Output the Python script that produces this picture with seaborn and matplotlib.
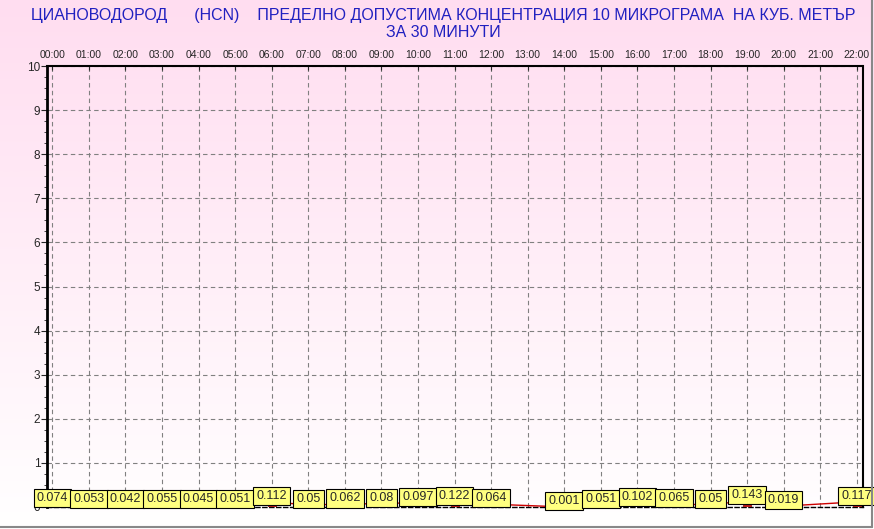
import numpy as np
import pandas as pd
import matplotlib.pyplot as plt
import seaborn as sns
from matplotlib.lines import Line2D

# Dados
hours = list(range(23))
hour_labels = [f"{h:02d}:00" for h in hours]
values = [0.074, 0.053, 0.042, 0.055, 0.045, 0.051, 0.112, 0.05, 0.062, 0.08,
          0.097, 0.122, 0.064, np.nan, 0.001, 0.051, 0.102, 0.065, 0.05, 0.143,
          0.019, np.nan, 0.117]
title = ("ЦИАНОВОДОРОД      (HCN)    ПРЕДЕЛНО ДОПУСТИМА КОНЦЕНТРАЦИЯ 10 МИКРОГРАМА  НА КУБ. МЕТЪР\n"
         "ЗА 30 МИНУТИ")

df = pd.DataFrame({"hour": hours, "value": values})
valid = df.dropna()

sns.set_style("white")
plt.rcParams['font.family'] = ['Liberation Sans', 'DejaVu Sans']

fig = plt.figure(figsize=(8.74, 5.29), dpi=100)

# Fundo em gradiente (rosa -> branco)
bg = fig.add_axes([0, 0, 1, 1], zorder=-10)
grad = np.linspace(0, 1, 256).reshape(-1, 1)
top = np.array([255, 221, 240]) / 255
bottom = np.array([255, 255, 255]) / 255
img = top + (bottom - top) * grad[..., None]
bg.imshow(img.reshape(256, 1, 3), aspect='auto', extent=[0, 1, 0, 1])
bg.axis('off')
fig.add_artist(Line2D([0, 0.998], [0.004, 0.004], color='#888888', lw=1.5))
fig.add_artist(Line2D([0.998, 0.998], [0.004, 1], color='#888888', lw=1.5))

ax = fig.add_axes([0.054, 0.0416, 0.933, 0.8336])
ax.set_facecolor('none')

sns.barplot(data=valid, x="hour", y="value", native_scale=True, width=0.22,
            color='#D40000', edgecolor='#8B0000', linewidth=0.5, ax=ax, zorder=3)
sns.lineplot(data=valid, x="hour", y="value", color='#CC0000', linewidth=1, ax=ax, zorder=3)

for h, v in zip(valid["hour"], valid["value"]):
    ax.annotate(f"{v:g}", (h, v), xytext=(0, 4.2), textcoords='offset points',
                ha='center', va='center', fontsize=9, zorder=5,
                bbox=dict(boxstyle='square,pad=0.25', fc='#FFFF80', ec='black', lw=0.8))

ax.set_xlim(-0.14, 22.16)
ax.set_ylim(0, 10)
ax.set_xticks(hours)
ax.set_xticklabels(hour_labels, fontsize=7.5)
ax.xaxis.tick_top()
ax.tick_params(axis='x', direction='in', length=3, pad=4, top=True, bottom=False)
ax.set_yticks(range(11))
ax.set_yticks(np.arange(0, 10.01, 0.25), minor=True)
ax.tick_params(axis='y', which='major', direction='out', length=4, labelsize=8.5, pad=1, left=True)
ax.tick_params(axis='y', which='minor', direction='out', length=2, left=True)
ax.grid(True, linestyle=(0, (4, 3)), color='#808080', linewidth=0.8)
ax.set_xlabel('')
ax.set_ylabel('')

ax.spines['left'].set_linewidth(2)
ax.spines['right'].set_linewidth(1.5)
ax.spines['top'].set_linestyle((0, (3, 1)))
ax.spines['top'].set_linewidth(1.5)
ax.spines['bottom'].set_linestyle((0, (3, 2)))
ax.spines['bottom'].set_linewidth(1)
for s in ax.spines.values():
    s.set_color('black')

fig.text(0.507, 0.985, title, ha='center', va='top', color='#2020C0', fontsize=11.5,
         linespacing=1.15)

plt.savefig("out.png", dpi=100)
plt.close()
